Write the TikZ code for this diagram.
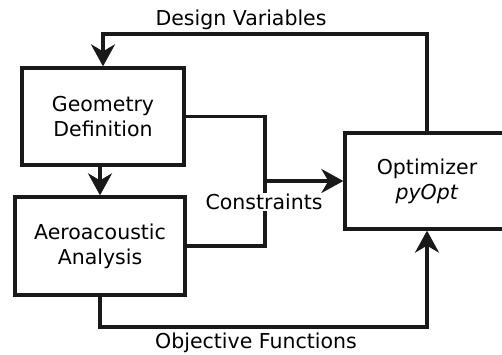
\documentclass[tikz,border=0pt]{standalone}
\usepackage{fontspec}
\setmainfont{DejaVu Sans}
\usetikzlibrary{arrows.meta}
\begin{document}
\begin{tikzpicture}[x=1pt,y=-1pt,
  box/.style={draw=black!90, line width=3.3pt, align=center, inner sep=0pt,
    font=\fontsize{20.5}{25}\selectfont},
  conn/.style={draw=black!90, line width=3.3pt},
  arr/.style={conn, -{Stealth[length=22pt,width=24pt,inset=7pt]}},
  lbl/.style={font=\fontsize{20.5}{24}\selectfont, inner sep=1pt}]
\useasboundingbox (0,0) rectangle (502,355);
\node[box, minimum width=162pt, minimum height=97pt] (geo) at (103,116.5) {Geometry\\Definition};
\node[box, minimum width=170pt, minimum height=98pt] (aero) at (100,246) {Aeroacoustic\\Analysis};
\node[box, minimum width=164pt, minimum height=96pt] (opt) at (427,181) {Optimizer\\\textit{pyOpt}};
\coordinate (dv) at (103,34);
\coordinate (cj) at (265,181);
\coordinate (of) at (427,327);
% design variables
\draw[arr] (opt.north) |- (dv) -- (geo.north);
\node[lbl] (dvl) at (241,20) {Design Variables};
% geometry to aero
\draw[arr] (geo.south -| aero.north) -- (aero.north);
% constraints
\draw[conn] (aero.east) -| (cj);
\draw[arr] (geo.east) -| (cj) -- (opt.west);
\node[lbl, fill=white] (cl) at (264,202) {Constraints};
% objective functions
\draw[arr] (aero.south) |- (of) -- (opt.south);
\node[lbl] (ofl) at (256,343) {Objective Functions};
\end{tikzpicture}
\end{document}
